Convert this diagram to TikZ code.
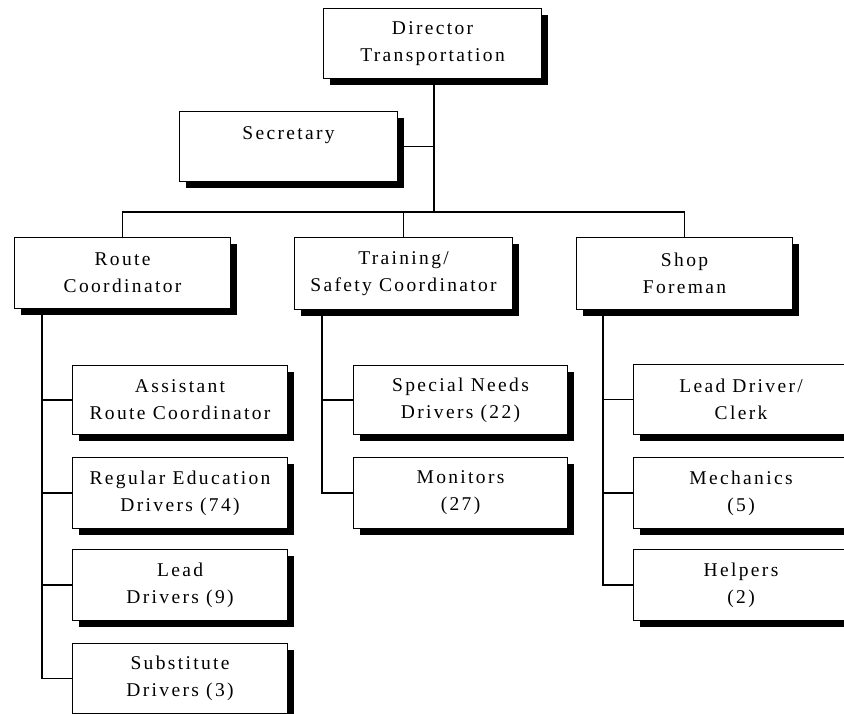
\documentclass[tikz,border=0pt]{standalone}
\usepackage{fontspec}
\setmainfont{Liberation Serif}[LetterSpace=12]
\usetikzlibrary{shadows,calc}

\tikzset{
  orgbox/.style={draw=black, line width=1.1pt, fill=white, rectangle,
    anchor=north west, minimum width=216pt, minimum height=70pt,
    inner sep=0pt, align=center,
    font=\fontsize{19.5}{27}\selectfont,
    drop shadow={shadow xshift=6pt, shadow yshift=-6pt, fill=black, opacity=1}},
  link/.style={draw=black, line width=1.2pt}
}

\begin{document}
\begin{tikzpicture}[x=1pt, y=-1pt]
  \fill[white] (0,0) rectangle (844,713);
  \clip (0,0) rectangle (844,713);

  % top level
  \node[orgbox, minimum width=218pt] (director) at (323,8) {Director\\Transportation};
  \node[orgbox, minimum width=218pt] (secretary) at (179,111) {Secretary\\\mbox{}};

  % coordinators
  \node[orgbox, minimum height=71pt] (route) at (14,237) {Route\\Coordinator};
  \node[orgbox, minimum width=218pt, minimum height=72pt] (training) at (294,237) {Training/\\Safety Coordinator};
  \node[orgbox, minimum height=72pt] (shop) at (576,237) {Shop\\Foreman};

  % route staff
  \node[orgbox, minimum width=215pt, minimum height=69pt] (asst) at (72,365) {Assistant\\Route Coordinator};
  \node[orgbox, minimum width=215pt, minimum height=71pt] (regular) at (72,457) {Regular Education\\Drivers (74)};
  \node[orgbox, minimum width=215pt, minimum height=71pt] (lead) at (72,549) {Lead\\Drivers (9)};
  \node[orgbox, minimum width=215pt, minimum height=70pt] (subst) at (72,643) {Substitute\\Drivers (3)};

  % training staff
  \node[orgbox, minimum width=214pt, minimum height=69pt] (special) at (353,365) {Special Needs\\Drivers (22)};
  \node[orgbox, minimum width=214pt, minimum height=71pt] (monitors) at (353,457) {Monitors\\(27)};

  % shop staff
  \node[orgbox, minimum width=215pt, minimum height=70pt] (leaddrv) at (633,364) {Lead Driver/\\Clerk};
  \node[orgbox, minimum width=215pt, minimum height=71pt] (mech) at (633,457) {Mechanics\\(5)};
  \node[orgbox, minimum width=215pt, minimum height=71pt] (helpers) at (633,549) {Helpers\\(2)};

  % main trunk and bus
  \coordinate (bus) at (434,212);
  \draw[link] (director.south -| bus) -- (bus);
  \draw[link] (secretary.east) -- (secretary.east -| bus);
  \draw[link] (route.north) |- (bus) -| (shop.north);
  \draw[link] (training.north) -- (training.north |- bus);

  % branch trunks
  \coordinate (rt) at ($(route.south west)+(28,0)$);
  \coordinate (tt) at ($(training.south west)+(28,0)$);
  \coordinate (st) at ($(shop.south west)+(27,0)$);

  \draw[link] (rt) |- (subst.west);
  \draw[link] (rt |- asst.west) -- (asst.west);
  \draw[link] (rt |- regular.west) -- (regular.west);
  \draw[link] (rt |- lead.west) -- (lead.west);

  \draw[link] (tt) |- (monitors.west);
  \draw[link] (tt |- special.west) -- (special.west);

  \draw[link] (st) |- (helpers.west);
  \draw[link] (st |- leaddrv.west) -- (leaddrv.west);
  \draw[link] (st |- mech.west) -- (mech.west);
\end{tikzpicture}
\end{document}
